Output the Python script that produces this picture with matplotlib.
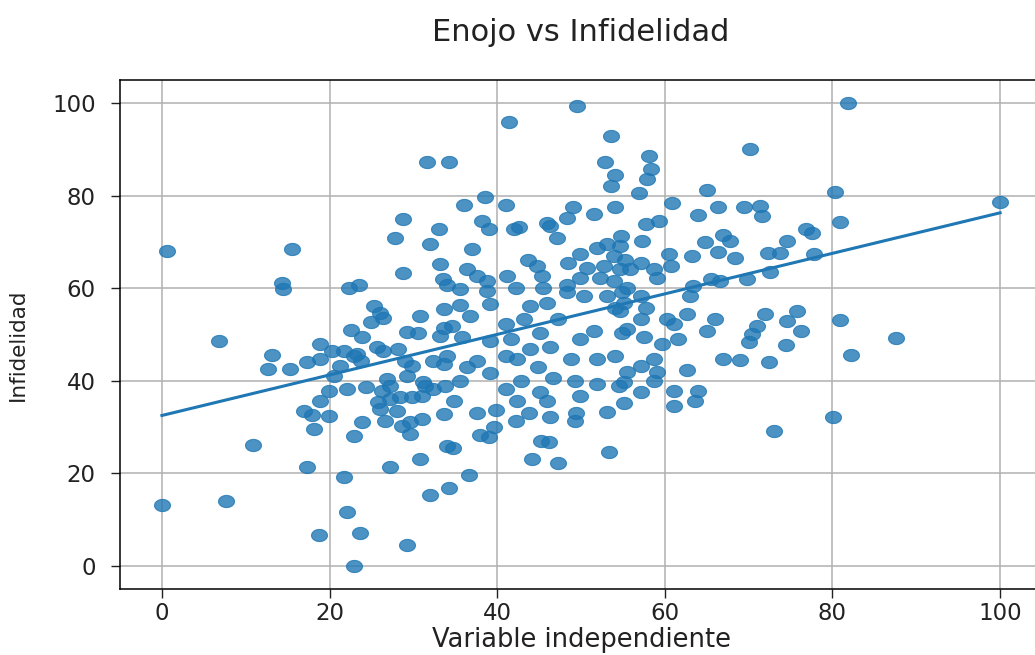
import numpy as np
import matplotlib
matplotlib.use("Agg")
import matplotlib.pyplot as plt
from matplotlib.path import Path

# ---- data (Enojo = x, Infidelidad = y) ----
enojo = [
    0.6, 0, 6.8, 7.7, 10.9, 13.1, 12.7, 14.3, 14.4, 15.5, 15.3, 17.3, 17.3, 16.9, 17.9, 18.1, 18.8, 18.9, 18.9, 18.9, 19.9, 19.9,
    20.3, 21.7, 22.9, 21.3, 20.5, 22.1, 21.7, 22.1, 23.6, 22.9, 22.9, 23.9, 22.3, 23.5, 25.3, 26.0, 24.9, 26.4, 22.6, 23.9,
    23.3, 25.7, 26.4, 28.2, 23.7, 24.3, 27.2, 26.3, 25.8, 27.2, 28.4, 29.8, 26.0, 28.0, 26.6, 28.6, 29.6, 31.0, 33.6, 34.0,
    27.2, 29.2, 30.8, 32.0, 29.2, 26.9, 31.2, 31.4, 32.4, 33.8, 29.0, 29.8, 32.4, 33.6, 29.2, 30.6, 30.8, 33.6, 28.8, 33.2,
    33.5, 34.0, 28.8, 33.0, 27.8, 32.0, 31.6, 34.3, 31.0, 29.6,
    41.4, 49.5, 53.6, 52.9, 54.0, 53.6, 38.5, 36.0, 41.0, 49.1, 54.1, 51.5, 48.3, 45.9, 46.3, 42.6, 42.0, 38.2, 39.0, 47.1,
    37.0, 54.8, 53.1, 51.9, 54.7, 49.9, 43.7,
    44.7, 48.5, 50.7, 52.7, 53.9, 55.2, 36.4, 37.6, 38.8, 41.2, 42.2, 45.3, 45.5, 48.3, 49.9, 52.3, 53.9, 54.9, 35.6, 38.8,
    35.6, 39.2, 36.8, 43.9, 45.9, 48.3, 50.3, 53.1, 54.1, 33.6, 34.6, 41.0, 43.2, 47.3, 51.5, 54.9, 33.2, 35.8, 39.2, 41.6,
    45.1, 49.9, 34.0, 37.6, 41.0, 43.9, 46.3, 48.8, 51.9, 54.1, 42.4, 44.9, 36.4, 39.2, 35.6, 41.0, 42.8, 46.7, 49.3, 51.9,
    54.5, 45.1, 42.4, 45.9, 49.9, 55.1, 34.8, 37.6, 39.8, 43.8, 49.4, 53.1,
    39.6, 38.0, 39.0, 34.7, 36.6, 34.2, 42.2, 46.3, 49.3, 45.2, 46.2, 44.2, 47.2, 53.4,
    70.2, 58.1, 58.3, 57.9, 65.0, 56.9, 60.9, 63.9, 66.4, 69.4, 71.4, 71.6, 57.7, 59.3, 76.8, 77.6, 67.0, 64.8, 67.8, 74.6,
    57.3, 60.5, 63.2, 66.3, 68.4, 72.3, 73.8, 77.8, 57.1, 58.7, 60.7, 55.9, 54.7, 59.1, 63.4, 65.5, 66.6, 69.8, 72.6,
    63.0, 57.1, 55.5, 55.1, 57.8, 57.1, 55.5, 57.5, 54.7, 62.6, 60.3, 61.1, 65.0, 66.0, 61.6, 59.7, 72.0, 71.0, 70.4, 70.0,
    75.8, 74.6, 76.2, 74.5, 67.0, 69.0, 72.4, 62.6, 58.7, 57.1, 55.5, 59.1, 58.7, 55.1, 57.1, 61.1, 64.0, 61.1, 63.6,
    81.9, 80.3, 80.9, 100.0, 80.9, 87.6, 82.2, 80.1, 73.0,
]
infidelidad = [
    68.0, 13.1, 48.5, 14.1, 26.1, 45.5, 42.5, 61.2, 59.8, 68.4, 42.5, 44.1, 21.3, 33.5, 32.5, 29.6, 6.7, 35.7, 44.7, 47.9, 37.8, 32.3,
    46.5, 46.5, 45.4, 43.2, 41.1, 38.2, 19.2, 11.6, 7.2, 0.0, 28.1, 31.0, 60.1, 60.8, 56.2, 54.7, 52.6, 53.5, 51.0, 49.4,
    45.8, 47.2, 46.5, 46.8, 44.3, 38.6, 38.9, 37.8, 35.5, 36.1, 36.4, 36.4, 33.9, 33.5, 31.4, 30.3, 28.5, 31.7, 32.8, 26.0,
    21.3, 4.6, 23.0, 15.4, 41.1, 40.4, 39.7, 38.9, 38.2, 38.9, 44.3, 43.2, 44.3, 43.6, 50.6, 50.4, 54.1, 51.5, 63.2, 65.2,
    62.0, 60.8, 74.9, 72.7, 70.8, 69.5, 87.2, 87.3, 36.8, 31.0,
    96.0, 99.3, 93.0, 87.3, 84.5, 82.0, 79.7, 77.9, 77.9, 77.6, 77.6, 76.1, 75.2, 74.1, 73.4, 73.3, 72.7, 74.5, 72.8, 70.9,
    68.4, 71.3, 69.5, 68.8, 69.1, 67.3, 66.2,
    64.8, 65.5, 64.4, 64.8, 66.9, 66.2, 64.1, 62.6, 61.6, 62.6, 60.1, 62.6, 60.1, 60.8, 62.3, 62.3, 61.6, 59.1, 59.8, 59.4,
    56.3, 56.5, 54.0, 56.2, 56.9, 59.1, 58.3, 58.3, 55.8, 55.5, 51.9, 52.2, 53.3, 53.3, 50.8, 50.4, 49.7, 49.4, 48.6, 49.0,
    50.4, 49.0, 45.4, 44.3, 45.4, 46.8, 47.2, 44.7, 44.7, 45.4, 44.7, 42.9, 42.9, 41.6, 40.0, 38.2, 40.0, 40.7, 40.0, 39.3,
    38.9, 37.5, 35.7, 35.7, 36.8, 35.3, 35.7, 33.0, 33.7, 33.0, 33.0, 33.2,
    30.0, 28.3, 27.8, 25.4, 19.7, 16.8, 31.4, 32.1, 31.4, 26.9, 26.7, 23.1, 22.3, 24.6,
    90.1, 88.5, 85.8, 83.6, 81.3, 80.5, 78.4, 75.9, 77.6, 77.6, 77.7, 75.6, 73.8, 74.6, 72.7, 72.0, 71.6, 70.0, 70.2, 70.2,
    70.2, 67.3, 67.0, 67.9, 66.5, 67.6, 67.6, 67.3, 65.5, 64.1, 64.8, 64.1, 64.1, 62.3, 60.5, 61.9, 61.6, 61.9, 63.4,
    58.3, 58.3, 60.1, 56.9, 55.8, 53.3, 51.1, 49.4, 55.1, 54.4, 53.3, 52.2, 50.8, 53.3, 49.1, 47.9, 54.4, 51.9, 50.1, 48.3,
    55.1, 52.9, 50.8, 47.7, 44.8, 44.5, 44.1, 42.4, 44.7, 43.2, 41.8, 41.8, 40.0, 39.7, 37.6, 37.8, 37.8, 34.6, 35.7,
    100.0, 80.9, 74.3, 78.6, 53.1, 49.2, 45.5, 32.1, 29.2,
]

# regression line endpoints
reg_x = [0, 100]
reg_y = [32.5, 76.3]

ticks = [0, 20, 40, 60, 80, 100]
title = "Enojo vs Infidelidad"
xlabel = "Variable independiente"
ylabel = "Infidelidad"

# ---- figure ----
W, H = 1035, 655
fig = plt.figure(figsize=(W / 100, H / 100), dpi=100)
ax = fig.add_axes([120 / W, 66 / H, 922 / W, 509 / H])

# slightly flattened dots, as in the reference
t = np.linspace(0, 2 * np.pi, 60)
ell = Path(np.column_stack([np.cos(t), 0.76 * np.sin(t)]), closed=True)

ax.scatter(enojo, infidelidad, s=132, marker=ell, color="#1f77b4", alpha=0.8,
           linewidths=0.8, zorder=3)
ax.plot(reg_x, reg_y, color="#1f77b4", lw=2.2, zorder=4)

ax.set_xlim(-5, 105)
ax.set_ylim(-5, 105)
ax.set_xticks(ticks)
ax.set_yticks(ticks)
ax.grid(True, color="#b0b0b0", lw=1.1, zorder=0)
ax.set_axisbelow(True)
for sp in ax.spines.values():
    sp.set_linewidth(1.1)

ax.tick_params(axis="both", labelsize=16.5, length=6.5, width=1.0, colors="#222222",
               labelcolor="#222222")
ax.tick_params(axis="x", pad=3)
ax.tick_params(axis="y", pad=11)

ax.set_title(title, fontsize=22, pad=28, color="#222222")
ax.set_xlabel(xlabel, fontsize=18.5, color="#222222")
ax.xaxis.set_label_coords(0.5, -0.075)
ax.set_ylabel(ylabel, fontsize=15.5, color="#222222")
ax.yaxis.set_label_coords(-0.10, 0.48)

fig.savefig("out.png", dpi=100)
